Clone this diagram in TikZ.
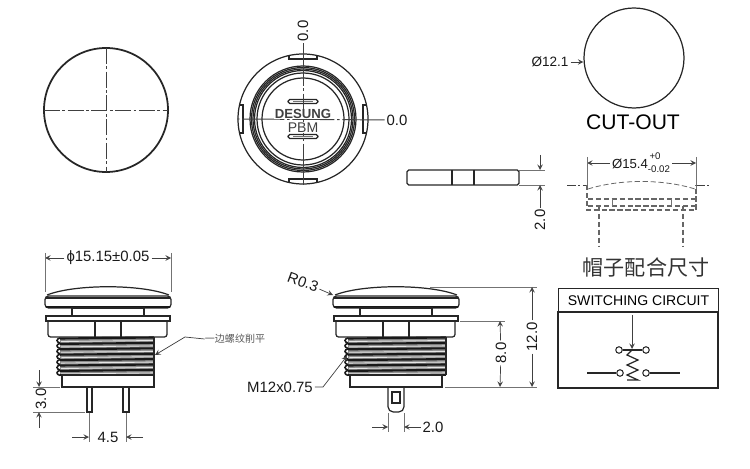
\documentclass[tikz,border=0pt]{standalone}
\usepackage{fontspec}
\setmainfont{Liberation Sans}
\newfontfamily\cjk{Noto Sans CJK SC}
\usetikzlibrary{calc}
\tikzset{x=0.02cm, y=-0.02cm,
    body line/.style={draw=black!85, line width=0.7pt},
    thread line/.style={draw=black!90, line width=1.2pt},
    thread gap/.style={draw=black!10, line width=0.5pt},
    center line/.style={draw=black!75, line width=0.55pt, dash pattern=on 9pt off 1.5pt on 1.5pt off 1.5pt},
    help line/.style={draw=black!55, line width=0.35pt},
    dim arrow/.style={draw=black!75, line width=0.4pt, -stealth},
    hidden line/.style={draw=black!60, line width=0.6pt, dash pattern=on 3pt off 1.5pt},
    dim label/.style={inner sep=1pt, font=\fontsize{8.5}{10}\selectfont, text=black!90}
}
% switch seen from the side, #1 is the right edge of the thread
\def\SwitchBody#1{%
  \draw[body line, rounded corners=2] (45,296) rectangle (171,308);
  \draw[body line] (47,295) .. controls (75,284) and (141,284) .. (169,295);
  \draw[body line] (46,298) -- (170,298);
  \draw[thread line] (46,307) -- (170,307);
  \draw[body line] (72,308) rectangle (144,316);
  \draw[body line] (46,316) rectangle (170,321);
  \draw[body line, rounded corners=1.5] (48,321) -- (48,337) -- (167,337) -- (167,321);
  \draw[body line] (95,321) -- (95,337);
  \draw[body line] (121,321) -- (121,337);
  \fill[black!45] (60,337) rectangle (#1,375);
  \foreach \k in {0,...,6} {
    \draw[thread line] (60,{338.5+\k*5.4}) -- (#1,{337.5+\k*5.4});
    \draw[thread gap] (61,{341.5+\k*5.4}) -- (#1,{340.5+\k*5.4});
    \draw[thread line, line width=0.9pt] (60,{338+\k*5.4}) .. controls (56,{339+\k*5.4}) and (56,{342+\k*5.4}) .. (60,{343+\k*5.4});
  }
  \draw[thread line] (60,375) -- (#1,375);
  \draw[body line] (62,375) rectangle (154,387);
}
\begin{document}
\begin{tikzpicture}
\useasboundingbox (0,0) rectangle (750,469);

% top view of the cap
\coordinate (cap) at (106,110);
\draw[body line, line width=1pt] (cap) circle (62);
\draw[center line] (106,48) -- (106,172);
\draw[center line] (44,110) -- (168,110);

% front view
\coordinate (front) at (303,119);
\draw[body line] (front) circle (65);
\foreach \r in {53,51.5,50,48.5}
  \draw[body line] (front) circle (\r);
\draw[body line] (front) circle (46);
\draw[body line] (front) circle (41);
\begin{scope}[shift={(front)}]
  \foreach \a in {0,90,180,270} {
    \begin{scope}[rotate=\a]
      \draw[body line] (-14,-63.5) -- (-14,-60) -- (14,-60) -- (14,-63.5);
    \end{scope}
  }
  \foreach \s in {-17.5,17.5} {
    \draw[body line, rounded corners=1] (-15,{\s-2}) rectangle (15,{\s+2});
    \draw[help line] (-10,\s) -- (10,\s);
  }
\end{scope}
\node[dim label, rotate=90] (fronttop) at (303,31) {0.0};
\node[dim label] (frontright) at (397,120) {0.0};
\draw[center line, dash pattern=on 24pt off 1.5pt on 1.5pt off 1.5pt] (fronttop) -- (303,185);
\draw[center line, dash pattern=on 24pt off 1.5pt on 1.5pt off 1.5pt] (frontright) -- (237,119);
\node[fill=white, inner sep=0.3pt, font=\bfseries\fontsize{7.5}{8}\selectfont, text=black!75] (brand) at (303,114) {DESUNG};
\node[fill=white, inner sep=0.3pt, font=\fontsize{8}{8}\selectfont, text=black!75] (model) at (303,127.5) {PBM};

% cut-out
\node[circle, body line, minimum size=2cm, inner sep=0pt] (cutout) at (634,58) {};
\node[font=\fontsize{12}{13}\selectfont, inner sep=0pt] (cutouttext) at (633,122) {CUT-OUT};
\node[dim label, font=\fontsize{7.7}{9}\selectfont] (cutoutdia) at (550,62) {Ø12.1};
\draw[dim arrow] (cutoutdia) -- (cutout.west |- cutoutdia);

% plate side view
\draw[body line, rounded corners=1] (407,170) rectangle (519,185);
\draw[body line] (452,170) -- (452,185);
\draw[body line] (474,170) -- (474,185);
\draw[help line] (519,170) -- (545,170);
\draw[help line] (519,185) -- (545,185);
\node[dim label, rotate=90] (platethick) at (540,220) {2.0};
\coordinate (platetop) at (540,170);
\coordinate (platebot) at (540,185);
\coordinate (platearrow) at (540,155);
\draw[dim arrow] (platearrow) -- (platetop);
\draw[dim arrow] (platethick) -- (platebot);

% fitting of the cap
\node[dim label, font=\fontsize{7.5}{9}\selectfont] (capfit) at (641,163) {Ø15.4\rlap{\raisebox{5pt}{\fontsize{5.5}{5.5}\selectfont\,+0}}\raisebox{-2.5pt}{\fontsize{5.5}{5.5}\selectfont-0.02}};
\coordinate (fitleft) at (587,163);
\coordinate (fitright) at (696,163);
\draw[dim arrow] (capfit) -- (fitleft);
\draw[dim arrow] (capfit) -- (fitright);
\draw[help line] (587,157) -- (587,190);
\draw[help line] (696,157) -- (696,190);
\draw[center line, dash pattern=on 5pt off 1.5pt on 1pt off 1.5pt] (567,185) -- (587,185);
\draw[center line, dash pattern=on 5pt off 1.5pt on 1pt off 1.5pt] (696,185) -- (711,185);
\draw[hidden line, line width=0.45pt] (588,189) .. controls (620,179) and (663,179) .. (695,189);
\draw[hidden line] (587,185) -- (587,210) -- (696,210) -- (696,185);
\draw[hidden line] (588,199) -- (695,199);
\draw[hidden line] (588,206) -- (695,206);
\draw[help line] (612,199) -- (612,206);
\draw[help line] (671,199) -- (671,206);
\draw[hidden line] (599,206) -- (599,247);
\draw[hidden line] (683,206) -- (683,247);

\node[font=\cjk\fontsize{12}{14}\selectfont, inner sep=0pt, text=black!80] (fittitle) at (646,268) {帽子配合尺寸};

% circuit box
\node[draw=black!85, line width=0.6pt, minimum width=3.2cm, minimum height=0.48cm, inner sep=0pt, anchor=north west, font=\fontsize{8}{9}\selectfont] (circuittitle) at (558,288) {SWITCHING CIRCUIT};
\draw[body line] (558,312) rectangle (718,388);
\foreach \name/\x/\y in {pa/619/350, pb/646/350, pc/620/373, pd/646/373}
  \node[circle, draw=black!85, line width=0.6pt, minimum size=0.13cm, inner sep=0pt] (\name) at (\x,\y) {};
\coordinate (push) at (632,315);
\coordinate (pushtip) at (632,349);
\coordinate (wirea) at (587,373);
\coordinate (wireb) at (680,373);
\draw[dim arrow] (push) -- (pushtip);
\draw[body line] (pa) -- (pb);
\draw[body line] (wirea) -- (pc);
\draw[body line] (pd) -- (wireb);
\draw[body line] (632,350) -- (627,355) -- (638,360) -- (627,365) -- (638,370) -- (627,375) -- (638,380) -- (627,380);

% side view, threaded side cut flat
\SwitchBody{154}
\draw[body line] (154,337) -- (154,375);
\draw[body line] (87,387) rectangle (92,412);
\draw[body line] (123,387) rectangle (129,412);
\node[dim label] (wlabel) at (108,258) {ϕ15.15±0.05};
\coordinate (wleft) at (45,258);
\coordinate (wright) at (171,258);
\draw[dim arrow] (wlabel) -- (wleft);
\draw[dim arrow] (wlabel) -- (wright);
\draw[help line] (45,253) -- (45,292);
\draw[help line] (171,253) -- (171,292);
\node[dim label, rotate=90] (pinlabel) at (41,399) {3.0};
\coordinate (pintop) at (39,387);
\coordinate (pinbot) at (39,412);
\coordinate (pinend) at (39,428);
\draw[help line] (33,387) -- (60,387);
\draw[help line] (33,412) -- (85,412);
\draw[dim arrow] (39,370) -- (pintop);
\draw[dim arrow] (pinend) -- (pinbot);
\node[dim label] (pitchlabel) at (108,437) {4.5};
\coordinate (pitchleft) at (89,437);
\coordinate (pitchright) at (126,437);
\draw[help line] (89,413) -- (89,442);
\draw[help line] (126,413) -- (126,442);
\draw[dim arrow] (72,437) -- (pitchleft);
\draw[dim arrow] (143,437) -- (pitchright);
\node[font=\cjk\fontsize{5.7}{7}\selectfont, text=black!65, inner sep=0pt] (flatnote) at (235,339) {一边螺纹削平};
\coordinate (flatend) at (155,355);
\draw[dim arrow] (flatnote.west) -- (185,337) -- (flatend);

% side view, full thread
\begin{scope}[xshift=288*0.02cm]
  \SwitchBody{158}
  \draw[body line] (158,337) -- (158,375);
  \draw[body line, rounded corners=3] (100,387) -- (100,412) -- (116,412) -- (116,387);
  \draw[body line] (104,392) rectangle (112,403);
\end{scope}
\node[dim label, rotate=-20] (radlabel) at (303,282) {R0.3};
\coordinate (radend) at (333,295);
\draw[dim arrow] (radlabel) -- (radend);
\node[dim label] (threadlabel) at (280,387) {M12x0.75};
\coordinate (threadend) at (347,356);
\draw[dim arrow] (threadlabel) -- (323,387) -- (threadend);
\draw[help line] (430,287) -- (537,287);
\draw[help line] (445,387) -- (537,387);
\draw[help line] (460,321) -- (505,321);
\node[dim label, rotate=90] (heightlabel) at (532,337) {12.0};
\coordinate (heighttop) at (532,287);
\coordinate (heightbot) at (532,387);
\draw[dim arrow] (heightlabel) -- (heighttop);
\draw[dim arrow] (heightlabel) -- (heightbot);
\node[dim label, rotate=90] (threadlen) at (501,353) {8.0};
\coordinate (lentop) at (500,321);
\coordinate (lenbot) at (500,387);
\draw[dim arrow] (threadlen) -- (lentop);
\draw[dim arrow] (threadlen) -- (lenbot);
\draw[help line] (388,413) -- (388,432);
\draw[help line] (404,413) -- (404,432);
\node[dim label] (lugwidth) at (433,427) {2.0};
\coordinate (lugleft) at (388,427);
\coordinate (lugright) at (404,427);
\draw[dim arrow] (372,427) -- (lugleft);
\draw[dim arrow] (lugwidth) -- (lugright);
\end{tikzpicture}
\end{document}
